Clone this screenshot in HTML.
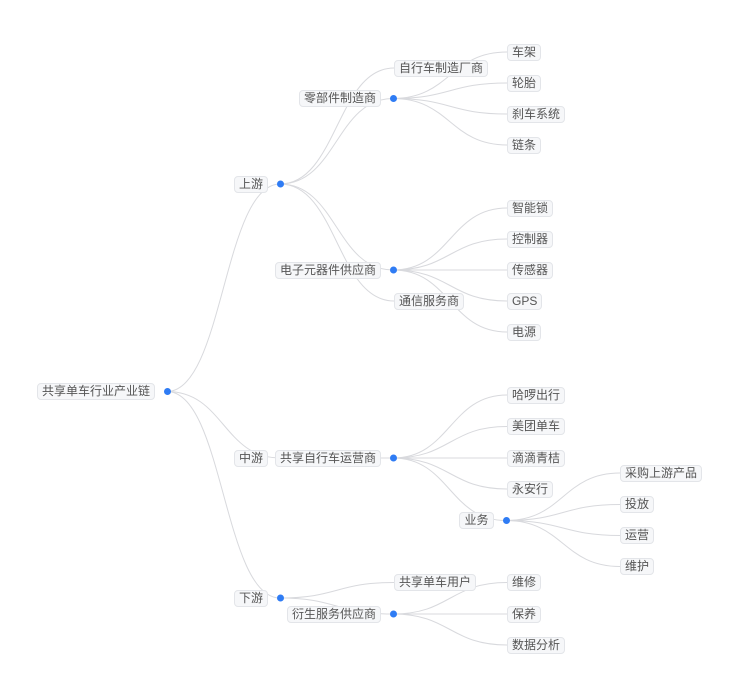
<!DOCTYPE html>
<html>
<head>
<meta charset="utf-8">
<style>
html,body{margin:0;padding:0;background:#fff;}
#wrap{position:relative;width:741px;height:678px;overflow:hidden;background:#fff;}
svg{position:absolute;left:0;top:0;}
.n{position:absolute;box-sizing:content-box;height:15px;line-height:15px;padding:0 4px;border:1px solid #e3e5e9;border-radius:4px;background:#f6f7f9;font-size:12px;color:#555;white-space:nowrap;font-family:"Liberation Sans","Noto Sans CJK SC",sans-serif;}
</style>
</head>
<body>
<div id="wrap">
<svg width="741" height="678" viewBox="0 0 741 678">
<g fill="none" stroke="#d8d9dd" stroke-width="1">
<!-- root -->
<path d="M167 391.5 C223.5 391.5 223.5 184 280 184"/>
<path d="M167 391.5 C223.5 391.5 223.5 458 280 458"/>
<path d="M167 391.5 C223.5 391.5 223.5 598 280 598"/>
<!-- 上游 -->
<path d="M280 184 C337 184 337 68 394 68"/>
<path d="M280 184 C336.5 184 336.5 98.5 393 98.5"/>
<path d="M280 184 C336.5 184 336.5 270 393 270"/>
<path d="M280 184 C337 184 337 301 394 301"/>
<!-- 零部件 -->
<path d="M393 98.5 C450 98.5 450 52 507 52"/>
<path d="M393 98.5 C450 98.5 450 83 507 83"/>
<path d="M393 98.5 C450 98.5 450 114 507 114"/>
<path d="M393 98.5 C450 98.5 450 145 507 145"/>
<!-- 电子 -->
<path d="M393 270 C450 270 450 208 507 208"/>
<path d="M393 270 C450 270 450 239 507 239"/>
<path d="M393 270 C450 270 450 270 507 270"/>
<path d="M393 270 C450 270 450 301 507 301"/>
<path d="M393 270 C450 270 450 332 507 332"/>
<!-- 中游 -->
<path d="M280 458 L393 458"/>
<!-- 共享自行车运营商 -->
<path d="M393 458 C450 458 450 395 507 395"/>
<path d="M393 458 C450 458 450 426.5 507 426.5"/>
<path d="M393 458 C450 458 450 458 507 458"/>
<path d="M393 458 C450 458 450 489 507 489"/>
<path d="M393 458 C449.5 458 449.5 520.5 506 520.5"/>
<!-- 业务 -->
<path d="M506 520.5 C563 520.5 563 473 620 473"/>
<path d="M506 520.5 C563 520.5 563 504.5 620 504.5"/>
<path d="M506 520.5 C563 520.5 563 535.5 620 535.5"/>
<path d="M506 520.5 C563 520.5 563 566.5 620 566.5"/>
<!-- 下游 -->
<path d="M280 598 C337 598 337 582.5 394 582.5"/>
<path d="M280 598 C336.5 598 336.5 614 393 614"/>
<!-- 衍生 -->
<path d="M393 614 C450 614 450 582.5 507 582.5"/>
<path d="M393 614 C450 614 450 614 507 614"/>
<path d="M393 614 C450 614 450 645 507 645"/>
</g>
<g fill="#2f7cf4">
<circle cx="167.5" cy="391.5" r="3.5"/>
<circle cx="280.5" cy="184" r="3.5"/>
<circle cx="393.5" cy="98.5" r="3.5"/>
<circle cx="393.5" cy="270" r="3.5"/>
<circle cx="393.5" cy="458" r="3.5"/>
<circle cx="506.5" cy="520.5" r="3.5"/>
<circle cx="280.5" cy="598" r="3.5"/>
<circle cx="393.5" cy="614" r="3.5"/>
</g>
</svg>

<!-- internal nodes (right aligned) -->
<div class="n" style="right:586px;top:383px;">共享单车行业产业链</div>
<div class="n" style="right:473px;top:175.5px;">上游</div>
<div class="n" style="right:360px;top:90px;">零部件制造商</div>
<div class="n" style="right:360px;top:261.5px;">电子元器件供应商</div>
<div class="n" style="right:473px;top:449.5px;">中游</div>
<div class="n" style="right:360px;top:449.5px;">共享自行车运营商</div>
<div class="n" style="right:247.5px;top:512px;">业务</div>
<div class="n" style="right:473px;top:589.5px;">下游</div>
<div class="n" style="right:360px;top:605.5px;">衍生服务供应商</div>

<!-- leaves -->
<div class="n" style="left:394px;top:59.5px;">自行车制造厂商</div>
<div class="n" style="left:394px;top:292.5px;">通信服务商</div>
<div class="n" style="left:394px;top:574px;">共享单车用户</div>

<div class="n" style="left:507px;top:43.5px;">车架</div>
<div class="n" style="left:507px;top:74.5px;">轮胎</div>
<div class="n" style="left:507px;top:105.5px;">刹车系统</div>
<div class="n" style="left:507px;top:136.5px;">链条</div>

<div class="n" style="left:507px;top:199.5px;">智能锁</div>
<div class="n" style="left:507px;top:230.5px;">控制器</div>
<div class="n" style="left:507px;top:261.5px;">传感器</div>
<div class="n" style="left:507px;top:292.5px;">GPS</div>
<div class="n" style="left:507px;top:323.5px;">电源</div>

<div class="n" style="left:507px;top:386.5px;">哈啰出行</div>
<div class="n" style="left:507px;top:418px;">美团单车</div>
<div class="n" style="left:507px;top:449.5px;">滴滴青桔</div>
<div class="n" style="left:507px;top:480.5px;">永安行</div>

<div class="n" style="left:620px;top:464.5px;">采购上游产品</div>
<div class="n" style="left:620px;top:496px;">投放</div>
<div class="n" style="left:620px;top:527px;">运营</div>
<div class="n" style="left:620px;top:558px;">维护</div>

<div class="n" style="left:507px;top:574px;">维修</div>
<div class="n" style="left:507px;top:605.5px;">保养</div>
<div class="n" style="left:507px;top:636.5px;">数据分析</div>
</div>
</body>
</html>
